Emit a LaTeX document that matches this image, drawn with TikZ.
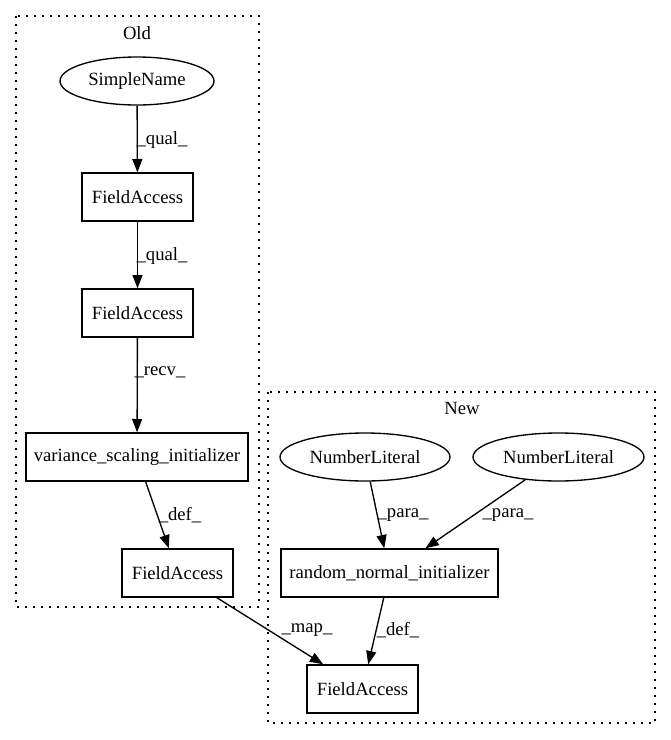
\documentclass[tikz,border=0pt]{standalone}
\usepackage{fontspec}
\setmainfont{Liberation Serif}
\usetikzlibrary{arrows.meta,shapes.geometric}
\begin{document}
\begin{tikzpicture}[x=0.75pt,y=-0.75pt,
  every node/.style={font=\fontsize{14pt}{16pt}\selectfont},
  box/.style={draw,line width=1pt,rectangle,inner sep=0pt},
  ell/.style={draw,line width=1pt,ellipse,inner sep=0pt},
  cluster/.style={draw,line width=1pt,dash pattern=on 1.2pt off 4.8pt},
  edge/.style={draw,line width=1pt,-{Triangle[length=10pt,width=7.5pt]}},
  lbl/.style={inner sep=0pt}]
\useasboundingbox (0,0) rectangle (671,740);
% clusters
\draw[cluster] (16,16) rectangle (259,607);
\draw[cluster] (268,392) rectangle (655,723);
\node[lbl] (oldt) at (137,33) {Old};
\node[lbl] (newt) at (462,408) {New};
% nodes
\node[ell,minimum width=115.5pt,minimum height=36pt] (sn) at (137,81) {SimpleName};
\node[box,minimum width=83.25pt,minimum height=36pt] (fa1) at (137.5,197) {FieldAccess};
\node[box,minimum width=83.25pt,minimum height=36pt] (fa2) at (137.5,313) {FieldAccess};
\node[box,minimum width=166.5pt,minimum height=36pt] (vsi) at (137,457) {variance\_scaling\_initializer};
\node[box,minimum width=83.25pt,minimum height=36pt] (fa3) at (177.5,573) {FieldAccess};
\node[ell,minimum width=127.5pt,minimum height=36pt] (nl1) at (365,457) {NumberLiteral};
\node[ell,minimum width=128.25pt,minimum height=36pt] (nl2) at (558.5,457) {NumberLiteral};
\node[box,minimum width=162.75pt,minimum height=36pt] (rni) at (389.5,573) {random\_normal\_initializer};
\node[box,minimum width=83.25pt,minimum height=36pt] (fa4) at (362.5,689) {FieldAccess};
% edges
\draw[edge] (sn) -- (fa1);
\draw[edge] (fa1) -- (fa2);
\draw[edge] (fa2) -- (vsi);
\draw[edge] (vsi) -- (fa3);
\draw[edge] (nl1) -- (rni);
\draw[edge] (nl2) -- (rni);
\draw[edge] (rni) -- (fa4);
\draw[edge] (fa3) -- (fa4);
% edge labels
\node[lbl] (l1) at (162,140) {\_qual\_};
\node[lbl] (l2) at (162,256) {\_qual\_};
\node[lbl] (l3) at (160,372) {\_recv\_};
\node[lbl] (l4) at (180,515) {\_def\_};
\node[lbl] (l5) at (403,515) {\_para\_};
\node[lbl] (l6) at (508,515) {\_para\_};
\node[lbl] (l7) at (398,630) {\_def\_};
\node[lbl] (l8) at (307,630) {\_map\_};
\end{tikzpicture}
\end{document}
